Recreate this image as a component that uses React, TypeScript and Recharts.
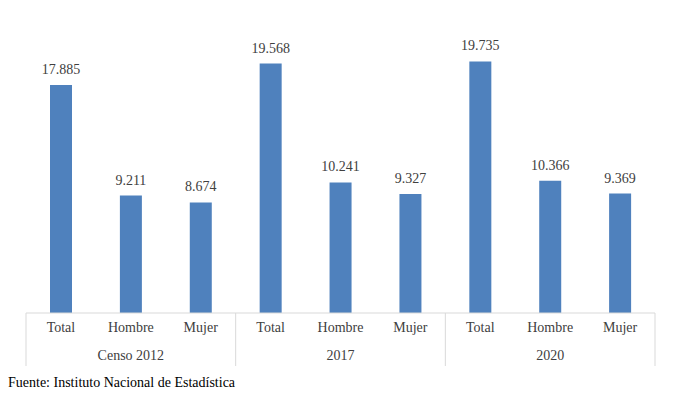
import React from "react";
import { BarChart, Bar, XAxis, YAxis, LabelList } from "recharts";

const categories = ["Total", "Hombre", "Mujer", "Total", "Hombre", "Mujer", "Total", "Hombre", "Mujer"];
const groups = ["Censo 2012", "Censo 2012", "Censo 2012", "2017", "2017", "2017", "2020", "2020", "2020"];
const values = [17885, 9211, 8674, 19568, 10241, 9327, 19735, 10366, 9369];
const source = "Fuente: Instituto Nacional de Estadística";

const data = categories.map((c, i) => ({ key: `${groups[i]}-${c}-${i}`, cat: c, group: groups[i], value: values[i] }));

const FONT = "'Liberation Serif', 'Times New Roman', serif";
const TEXT = "#404040";
const LINE = "#D9D9D9";

const fmt = (v: number) => v.toLocaleString("de-DE");

const Tick = (props: any) => {
  const { x, y, payload, index } = props;
  const half = payload.offset || 35;
  const d = data[index];
  return (
    <g>
      <text x={x} y={y + 18.5} textAnchor="middle" fontFamily={FONT} fontSize={14} fill={TEXT}>
        {d.cat}
      </text>
      {index % 3 === 0 && <line x1={x - half} x2={x - half} y1={y} y2={y + 53} stroke={LINE} strokeWidth={1} />}
      {index === data.length - 1 && <line x1={x + half} x2={x + half} y1={y} y2={y + 53} stroke={LINE} strokeWidth={1} />}
      {index % 3 === 1 && (
        <text x={x} y={y + 46.5} textAnchor="middle" fontFamily={FONT} fontSize={14} fill={TEXT}>
          {d.group}
        </text>
      )}
    </g>
  );
};

export default function App() {
  return (
    <div style={{ width: 669, fontFamily: FONT }}>
      <BarChart width={669} height={367} data={data} margin={{ top: 50, right: 22, bottom: 4, left: 18 }}>
        <YAxis hide domain={[0, 20000]} />
        <XAxis
          dataKey="key"
          interval={0}
          height={58}
          tickSize={0}
          tickMargin={0}
          tickLine={false}
          axisLine={{ stroke: LINE, strokeWidth: 1 }}
          tick={<Tick />}
        />
        <Bar dataKey="value" fill="#4F81BD" barSize={22} isAnimationActive={false}>
          <LabelList
            dataKey="value"
            position="top"
            offset={11}
            formatter={(v: any) => fmt(Number(v))}
            style={{ fontFamily: FONT, fontSize: 14, fill: TEXT }}
          />
        </Bar>
      </BarChart>
      <div style={{ fontSize: 14, lineHeight: "16px", color: "#000", whiteSpace: "nowrap" }}>{source}</div>
    </div>
  );
}
